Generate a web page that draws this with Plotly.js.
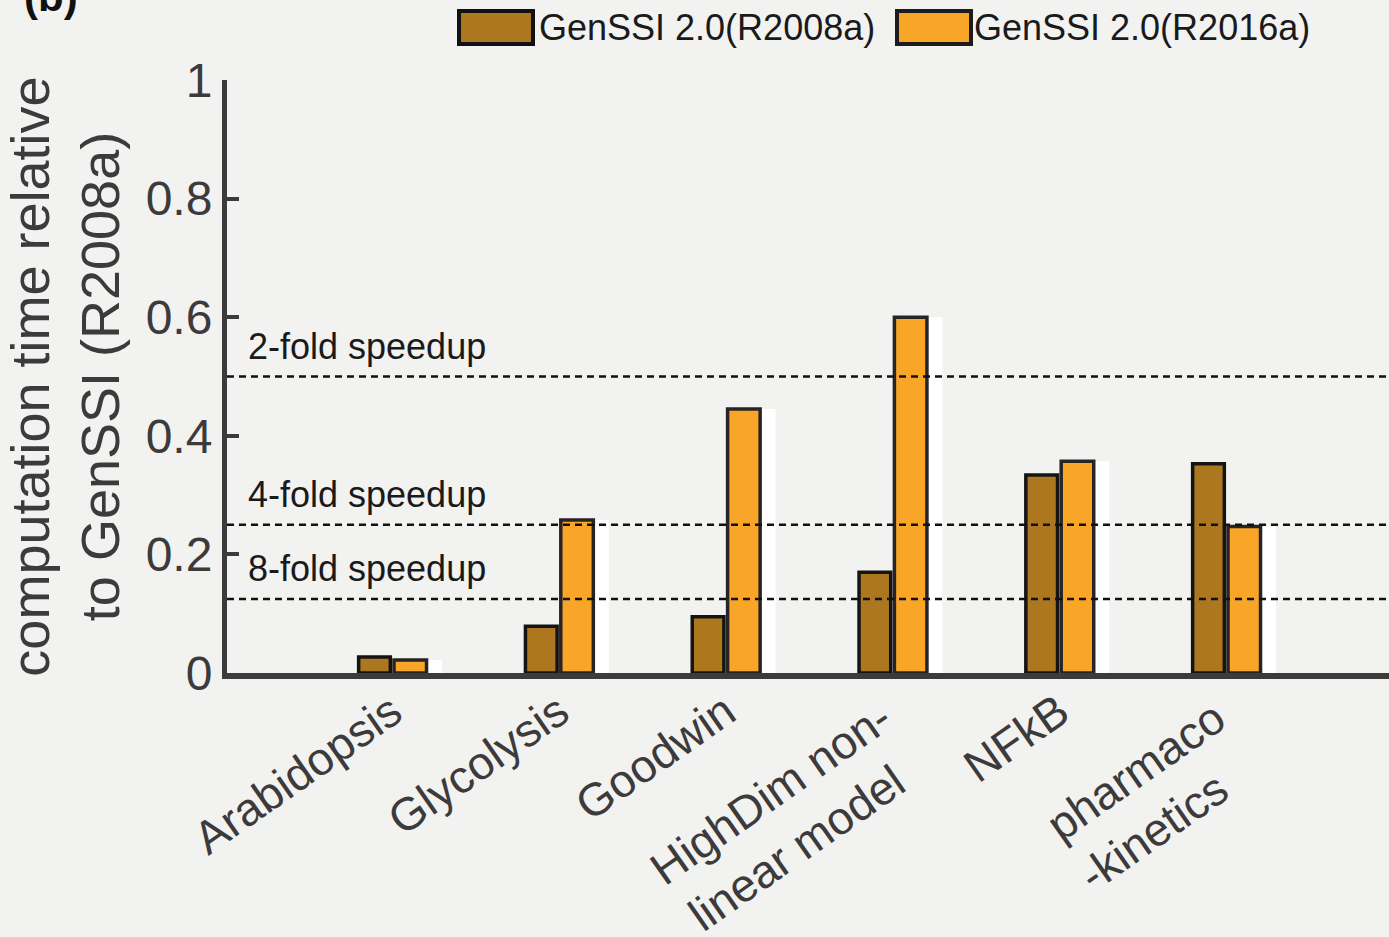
<!DOCTYPE html>
<html>
<head>
<meta charset="utf-8">
<script src="https://cdn.plot.ly/plotly-3.0.1.min.js"></script>
<style>
  html, body { margin: 0; padding: 0; background: #f2f2f1; }
  #chart { width: 1389px; height: 937px; }
</style>
</head>
<body>
<div id="chart"></div>
<script>
// ---- data ----
const categories = ['Arabidopsis', 'Glycolysis', 'Goodwin', 'HighDim', 'NFkB', 'pharmaco'];
const NB = '\u00a0';
const tickLabels = ['Arabidopsis', 'Glycolysis', 'Goodwin',
  'HighDim non-' + NB + '<br>linear model' + NB + NB + NB, 'NFkB',
  'pharmaco' + NB + '<br>-kinetics' + NB + NB + NB + NB];
const r2008a = [0.027, 0.079, 0.095, 0.170, 0.334, 0.353];
const r2016a = [0.022, 0.258, 0.445, 0.600, 0.357, 0.247];
const seriesNames = ['GenSSI 2.0(R2008a)', 'GenSSI 2.0(R2016a)'];
const speedupLevels = [0.5, 0.25, 0.125];
const speedupLabels = ['2-fold speedup', '4-fold speedup', '8-fold speedup'];
const yTicks = [0, 0.2, 0.4, 0.6, 0.8, 1];
const yTickText = ['0', '0.2', '0.4', '0.6', '0.8', '1'];

// ---- styles ----
const darkFill = '#ad771f';
const orangeFill = '#f9a628';
const axisColor = '#3d3a3b';
const font = 'Liberation Sans, Arial, sans-serif';

// plot area geometry (pixels) for paper conversion
const L = 227, T = 80, R = 1389, B = 673;
const W = R - L, H = B - T;
const px = x => (x - L) / W;
const py = y => (B - y) / H;

const traces = [
  { type: 'bar', x: categories, y: r2016a, name: 'shadow', showlegend: false, hoverinfo: 'skip',
    width: 0.2, offset: 0.1, marker: { color: '#ffffff', line: { width: 0 } } },
  { type: 'bar', x: categories, y: r2008a, name: seriesNames[0], showlegend: false,
    width: 0.19, offset: -0.2, marker: { color: darkFill, line: { color: '#141414', width: 3.5 } } },
  { type: 'bar', x: categories, y: r2016a, name: seriesNames[1], showlegend: false,
    width: 0.195, offset: 0.012, marker: { color: orangeFill, line: { color: '#282425', width: 3.5 } } }
];

const shapes = speedupLevels.map(v => ({
  type: 'line', xref: 'paper', x0: 0, x1: 1, yref: 'y', y0: v, y1: v,
  line: { color: '#111111', width: 2.5, dash: '7px,5px' }, layer: 'above'
}));
// custom legend swatches
shapes.push({ type: 'rect', xref: 'paper', yref: 'paper', x0: px(459), x1: px(533), y0: py(44), y1: py(11),
  fillcolor: darkFill, line: { color: '#111111', width: 4 } });
shapes.push({ type: 'rect', xref: 'paper', yref: 'paper', x0: px(897), x1: px(971), y0: py(44), y1: py(11),
  fillcolor: orangeFill, line: { color: '#1e1b1c', width: 4 } });

const annotations = speedupLevels.map((v, i) => ({
  xref: 'paper', x: px(246), yref: 'y', y: v, yshift: 30,
  xanchor: 'left', yanchor: 'middle', showarrow: false,
  text: speedupLabels[i], font: { family: font, size: 36, color: '#1a1a1a' }
}));
annotations.push({ xref: 'paper', yref: 'paper', x: px(537), y: py(27), xanchor: 'left', yanchor: 'middle',
  showarrow: false, text: seriesNames[0], font: { family: font, size: 36, color: '#1a1a1a' } });
annotations.push({ xref: 'paper', yref: 'paper', x: px(972), y: py(27), xanchor: 'left', yanchor: 'middle',
  showarrow: false, text: seriesNames[1], font: { family: font, size: 36, color: '#1a1a1a' } });
annotations.push({ xref: 'paper', yref: 'paper', x: px(22), y: py(22), xanchor: 'left', yanchor: 'bottom',
  showarrow: false, text: '<b>(b)</b>', font: { family: font, size: 42, color: '#111111' } });

const layout = {
  width: 1389, height: 937,
  paper_bgcolor: '#f2f2f1', plot_bgcolor: '#f2f2f1',
  margin: { l: L, r: 1389 - R, t: T, b: 937 - B },
  barmode: 'overlay',
  showlegend: false,
  xaxis: {
    type: 'category', categoryorder: 'array', categoryarray: categories,
    range: [(L - 392) / 166.8, (R - 392) / 166.8],
    tickvals: categories, ticktext: tickLabels, tickangle: -35,
    ticks: '', showgrid: false, zeroline: false,
    showline: true, linecolor: axisColor, linewidth: 6,
    ticklabelstandoff: -12,
    tickfont: { family: font, size: 46, color: axisColor },
    automargin: false
  },
  yaxis: {
    range: [0, 1], tickvals: yTicks, ticktext: yTickText,
    ticks: 'inside', ticklen: 12, tickwidth: 4, tickcolor: axisColor,
    showgrid: false, zeroline: false,
    showline: true, linecolor: axisColor, linewidth: 5,
    tickfont: { family: font, size: 48, color: axisColor },
    title: { text: 'computation time relative<br>to GenSSI (R2008a)', standoff: 12,
             font: { family: font, size: 54, color: axisColor } },
    automargin: false
  },
  shapes: shapes,
  annotations: annotations
};

Plotly.newPlot('chart', traces, layout, { displayModeBar: false, staticPlot: true });
</script>
</body>
</html>
